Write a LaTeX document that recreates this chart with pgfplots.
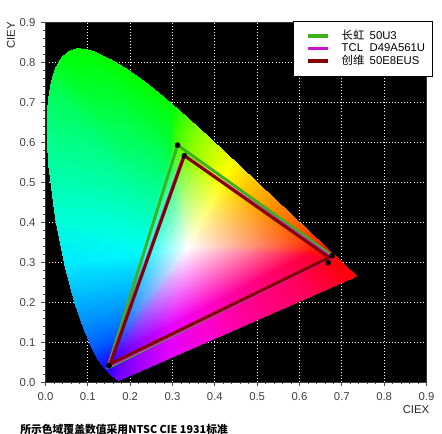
\documentclass[border=0pt]{standalone}
\usepackage{fontspec}
\setmainfont{Liberation Sans}
\newfontfamily\cjk{Noto Sans CJK SC}
\usepackage{pgfplots}
\pgfplotsset{compat=1.18}
\definecolor{cgreen}{RGB}{62,178,30}
\definecolor{cmag}{RGB}{205,20,205}
\definecolor{cdred}{RGB}{130,0,0}
\begin{document}
\begin{tikzpicture}
\path[use as bounding box] (-34.125pt,-38.775pt) rectangle (297.375pt,286.725pt);
\begin{axis}[
  at={(0pt,0pt)}, anchor=south west,
  scale only axis, width=285.75pt, height=270pt,
  xmin=0, xmax=0.9, ymin=0, ymax=0.9,
  axis background/.style={fill=black},
  axis line style={black!80, line width=0.6pt},
  xtick={0,0.1,0.2,0.3,0.4,0.5,0.6,0.7,0.8,0.9},
  ytick={0,0.1,0.2,0.3,0.4,0.5,0.6,0.7,0.8,0.9},
  xticklabels={0.0,0.1,0.2,0.3,0.4,0.5,0.6,0.7,0.8,0.9},
  yticklabels={0.0,0.1,0.2,0.3,0.4,0.5,0.6,0.7,0.8,0.9},
  minor tick num=4,
  tick align=outside,
  tick pos=left,
  major tick length=3pt, minor tick length=1.5pt,
  tick style={black!70, line width=0.5pt},
  tick label style={font=\fontsize{8.5}{10}\selectfont, text=black!75},
  xticklabel shift=1.5pt, yticklabel shift=1pt,
  grid=major,
  major grid style={white, line width=0.7pt, dash pattern=on 0.7pt off 1.6pt},
  legend style={at={(1,1)}, anchor=north east, xshift=4.8pt, yshift=1pt,
    draw=black, fill=white, font=\fontsize{8.5}{10}\selectfont,
    inner xsep=5pt, inner ysep=6.5pt, row sep=0pt,
    nodes={inner sep=0.6pt, text height=6.5pt, text depth=1.6pt}},
  legend cell align=left,
  legend image code/.code={\path (0pt,0pt); \draw[#1, line width=2.6pt] (5pt,0pt) -- (20pt,0pt); \path (28.5pt,0pt);},
]
\addplot[patch, shader=interp, mesh/color input=explicit, point meta=explicit symbolic, forget plot]
table[meta=c] {
x y c
0.335 0.335 rgb=1,1,1
0.2191 0.0981 rgb=0.58,0,1
0.2064 0.0911 rgb=0.53,0,1
0.2191 0.0981 rgb=0.58,0,1
0.1741 0.0050 rgb=0.44,0,1
0.1644 0.0109 rgb=0.39,0,1
0.2191 0.0981 rgb=0.58,0,1
0.1644 0.0109 rgb=0.39,0,1
0.2064 0.0911 rgb=0.53,0,1
0.335 0.335 rgb=1,1,1
0.2064 0.0911 rgb=0.53,0,1
0.1696 0.0708 rgb=0.31,0,1
0.2064 0.0911 rgb=0.53,0,1
0.1644 0.0109 rgb=0.39,0,1
0.1440 0.0297 rgb=0.12,0,1
0.2064 0.0911 rgb=0.53,0,1
0.1440 0.0297 rgb=0.12,0,1
0.1696 0.0708 rgb=0.31,0,1
0.335 0.335 rgb=1,1,1
0.1696 0.0708 rgb=0.31,0,1
0.1640 0.1104 rgb=0,0.36,1
0.1696 0.0708 rgb=0.31,0,1
0.1440 0.0297 rgb=0.12,0,1
0.1241 0.0578 rgb=0,0.19,1
0.1696 0.0708 rgb=0.31,0,1
0.1241 0.0578 rgb=0,0.19,1
0.1640 0.1104 rgb=0,0.36,1
0.335 0.335 rgb=1,1,1
0.1640 0.1104 rgb=0,0.36,1
0.1786 0.1628 rgb=0,0.53,1
0.1640 0.1104 rgb=0,0.36,1
0.1241 0.0578 rgb=0,0.19,1
0.1096 0.0868 rgb=0,0.36,1
0.1640 0.1104 rgb=0,0.36,1
0.1096 0.0868 rgb=0,0.36,1
0.1786 0.1628 rgb=0,0.53,1
0.335 0.335 rgb=1,1,1
0.1786 0.1628 rgb=0,0.53,1
0.1938 0.2176 rgb=0,0.68,1
0.1786 0.1628 rgb=0,0.53,1
0.1096 0.0868 rgb=0,0.36,1
0.0913 0.1327 rgb=0,0.52,1
0.1786 0.1628 rgb=0,0.53,1
0.0913 0.1327 rgb=0,0.52,1
0.1938 0.2176 rgb=0,0.68,1
0.335 0.335 rgb=1,1,1
0.1938 0.2176 rgb=0,0.68,1
0.2085 0.2707 rgb=0,0.82,1
0.1938 0.2176 rgb=0,0.68,1
0.0913 0.1327 rgb=0,0.52,1
0.0687 0.2007 rgb=0,0.70,1
0.1938 0.2176 rgb=0,0.68,1
0.0687 0.2007 rgb=0,0.70,1
0.2085 0.2707 rgb=0,0.82,1
0.335 0.335 rgb=1,1,1
0.2085 0.2707 rgb=0,0.82,1
0.2218 0.3183 rgb=0,0.97,1
0.2085 0.2707 rgb=0,0.82,1
0.0687 0.2007 rgb=0,0.70,1
0.0454 0.2950 rgb=0,0.92,1
0.2085 0.2707 rgb=0,0.82,1
0.0454 0.2950 rgb=0,0.92,1
0.2218 0.3183 rgb=0,0.97,1
0.335 0.335 rgb=1,1,1
0.2218 0.3183 rgb=0,0.97,1
0.2330 0.3588 rgb=0,1,0.90
0.2218 0.3183 rgb=0,0.97,1
0.0454 0.2950 rgb=0,0.92,1
0.0235 0.4127 rgb=0,1,0.83
0.2218 0.3183 rgb=0,0.97,1
0.0235 0.4127 rgb=0,1,0.83
0.2330 0.3588 rgb=0,1,0.90
0.335 0.335 rgb=1,1,1
0.2330 0.3588 rgb=0,1,0.90
0.2418 0.3907 rgb=0,1,0.81
0.2330 0.3588 rgb=0,1,0.90
0.0235 0.4127 rgb=0,1,0.83
0.0082 0.5384 rgb=0,1,0.63
0.2330 0.3588 rgb=0,1,0.90
0.0082 0.5384 rgb=0,1,0.63
0.2418 0.3907 rgb=0,1,0.81
0.335 0.335 rgb=1,1,1
0.2418 0.3907 rgb=0,1,0.81
0.2487 0.4154 rgb=0,1,0.74
0.2418 0.3907 rgb=0,1,0.81
0.0082 0.5384 rgb=0,1,0.63
0.0045 0.5970 rgb=0,1,0.55
0.2418 0.3907 rgb=0,1,0.81
0.0045 0.5970 rgb=0,1,0.55
0.2487 0.4154 rgb=0,1,0.74
0.2487 0.4154 rgb=0,1,0.74
0.0045 0.5970 rgb=0,1,0.55
0.0039 0.6548 rgb=0,1,0.46
0.335 0.335 rgb=1,1,1
0.2487 0.4154 rgb=0,1,0.74
0.2544 0.4358 rgb=0,1,0.68
0.2487 0.4154 rgb=0,1,0.74
0.0039 0.6548 rgb=0,1,0.46
0.0065 0.7030 rgb=0,1,0.38
0.2487 0.4154 rgb=0,1,0.74
0.0065 0.7030 rgb=0,1,0.38
0.2544 0.4358 rgb=0,1,0.68
0.2544 0.4358 rgb=0,1,0.68
0.0065 0.7030 rgb=0,1,0.38
0.0139 0.7502 rgb=0,1,0.30
0.335 0.335 rgb=1,1,1
0.2544 0.4358 rgb=0,1,0.68
0.2592 0.4532 rgb=0,1,0.64
0.2544 0.4358 rgb=0,1,0.68
0.0139 0.7502 rgb=0,1,0.30
0.0235 0.7840 rgb=0,1,0.17
0.2544 0.4358 rgb=0,1,0.68
0.0235 0.7840 rgb=0,1,0.17
0.2592 0.4532 rgb=0,1,0.64
0.2592 0.4532 rgb=0,1,0.64
0.0235 0.7840 rgb=0,1,0.17
0.0389 0.8120 rgb=0,1,0.05
0.335 0.335 rgb=1,1,1
0.2592 0.4532 rgb=0,1,0.64
0.2633 0.4679 rgb=0,1,0.60
0.2592 0.4532 rgb=0,1,0.64
0.0389 0.8120 rgb=0,1,0.05
0.0555 0.8265 rgb=0,1,0.02
0.2592 0.4532 rgb=0,1,0.64
0.0555 0.8265 rgb=0,1,0.02
0.2633 0.4679 rgb=0,1,0.60
0.2633 0.4679 rgb=0,1,0.60
0.0555 0.8265 rgb=0,1,0.02
0.0743 0.8338 rgb=0,1,0
0.335 0.335 rgb=1,1,1
0.2633 0.4679 rgb=0,1,0.60
0.2671 0.4816 rgb=0,1,0.56
0.2633 0.4679 rgb=0,1,0.60
0.0743 0.8338 rgb=0,1,0
0.0945 0.8325 rgb=0,1,0
0.2633 0.4679 rgb=0,1,0.60
0.0945 0.8325 rgb=0,1,0
0.2671 0.4816 rgb=0,1,0.56
0.2671 0.4816 rgb=0,1,0.56
0.0945 0.8325 rgb=0,1,0
0.1142 0.8262 rgb=0,1,0
0.335 0.335 rgb=1,1,1
0.2671 0.4816 rgb=0,1,0.56
0.2713 0.4967 rgb=0,1,0.52
0.2671 0.4816 rgb=0,1,0.56
0.1142 0.8262 rgb=0,1,0
0.1547 0.8059 rgb=0,1,0
0.2671 0.4816 rgb=0,1,0.56
0.1547 0.8059 rgb=0,1,0
0.2713 0.4967 rgb=0,1,0.52
0.335 0.335 rgb=1,1,1
0.2713 0.4967 rgb=0,1,0.52
0.2763 0.5146 rgb=0,1,0.47
0.2713 0.4967 rgb=0,1,0.52
0.1547 0.8059 rgb=0,1,0
0.1929 0.7816 rgb=0,1,0
0.2713 0.4967 rgb=0,1,0.52
0.1929 0.7816 rgb=0,1,0
0.2763 0.5146 rgb=0,1,0.47
0.335 0.335 rgb=1,1,1
0.2763 0.5146 rgb=0,1,0.47
0.2827 0.5378 rgb=0,1,0.39
0.2763 0.5146 rgb=0,1,0.47
0.1929 0.7816 rgb=0,1,0
0.2296 0.7543 rgb=0,1,0
0.2763 0.5146 rgb=0,1,0.47
0.2296 0.7543 rgb=0,1,0
0.2827 0.5378 rgb=0,1,0.39
0.335 0.335 rgb=1,1,1
0.2827 0.5378 rgb=0,1,0.39
0.2921 0.5714 rgb=0,1,0.27
0.2827 0.5378 rgb=0,1,0.39
0.2296 0.7543 rgb=0,1,0
0.2658 0.7243 rgb=0,1,0
0.2827 0.5378 rgb=0,1,0.39
0.2658 0.7243 rgb=0,1,0
0.2921 0.5714 rgb=0,1,0.27
0.335 0.335 rgb=1,1,1
0.2921 0.5714 rgb=0,1,0.27
0.3104 0.5918 rgb=0.28,1,0
0.2921 0.5714 rgb=0,1,0.27
0.2658 0.7243 rgb=0,1,0
0.3016 0.6923 rgb=0,1,0
0.2921 0.5714 rgb=0,1,0.27
0.3016 0.6923 rgb=0,1,0
0.3104 0.5918 rgb=0.28,1,0
0.335 0.335 rgb=1,1,1
0.3104 0.5918 rgb=0.28,1,0
0.3361 0.5714 rgb=0.50,1,0
0.3104 0.5918 rgb=0.28,1,0
0.3016 0.6923 rgb=0,1,0
0.3373 0.6589 rgb=0.33,1,0
0.3104 0.5918 rgb=0.28,1,0
0.3373 0.6589 rgb=0.33,1,0
0.3361 0.5714 rgb=0.50,1,0
0.335 0.335 rgb=1,1,1
0.3361 0.5714 rgb=0.50,1,0
0.3629 0.5502 rgb=0.67,1,0
0.3361 0.5714 rgb=0.50,1,0
0.3373 0.6589 rgb=0.33,1,0
0.3731 0.6245 rgb=0.59,1,0
0.3361 0.5714 rgb=0.50,1,0
0.3731 0.6245 rgb=0.59,1,0
0.3629 0.5502 rgb=0.67,1,0
0.335 0.335 rgb=1,1,1
0.3629 0.5502 rgb=0.67,1,0
0.3906 0.5282 rgb=0.84,1,0
0.3629 0.5502 rgb=0.67,1,0
0.3731 0.6245 rgb=0.59,1,0
0.4087 0.5896 rgb=0.79,1,0
0.3629 0.5502 rgb=0.67,1,0
0.4087 0.5896 rgb=0.79,1,0
0.3906 0.5282 rgb=0.84,1,0
0.335 0.335 rgb=1,1,1
0.3906 0.5282 rgb=0.84,1,0
0.4193 0.5053 rgb=1,1,0
0.3906 0.5282 rgb=0.84,1,0
0.4087 0.5896 rgb=0.79,1,0
0.4441 0.5547 rgb=0.98,1,0
0.3906 0.5282 rgb=0.84,1,0
0.4441 0.5547 rgb=0.98,1,0
0.4193 0.5053 rgb=1,1,0
0.335 0.335 rgb=1,1,1
0.4193 0.5053 rgb=1,1,0
0.4489 0.4818 rgb=1,0.85,0
0.4193 0.5053 rgb=1,1,0
0.4441 0.5547 rgb=0.98,1,0
0.4788 0.5202 rgb=1,0.84,0
0.4193 0.5053 rgb=1,1,0
0.4788 0.5202 rgb=1,0.84,0
0.4489 0.4818 rgb=1,0.85,0
0.335 0.335 rgb=1,1,1
0.4489 0.4818 rgb=1,0.85,0
0.4790 0.4579 rgb=1,0.72,0
0.4489 0.4818 rgb=1,0.85,0
0.4788 0.5202 rgb=1,0.84,0
0.5125 0.4866 rgb=1,0.70,0
0.4489 0.4818 rgb=1,0.85,0
0.5125 0.4866 rgb=1,0.70,0
0.4790 0.4579 rgb=1,0.72,0
0.335 0.335 rgb=1,1,1
0.4790 0.4579 rgb=1,0.72,0
0.5092 0.4340 rgb=1,0.61,0
0.4790 0.4579 rgb=1,0.72,0
0.5125 0.4866 rgb=1,0.70,0
0.5448 0.4544 rgb=1,0.58,0
0.4790 0.4579 rgb=1,0.72,0
0.5448 0.4544 rgb=1,0.58,0
0.5092 0.4340 rgb=1,0.61,0
0.335 0.335 rgb=1,1,1
0.5092 0.4340 rgb=1,0.61,0
0.5388 0.4105 rgb=1,0.51,0
0.5092 0.4340 rgb=1,0.61,0
0.5448 0.4544 rgb=1,0.58,0
0.5752 0.4242 rgb=1,0.48,0
0.5092 0.4340 rgb=1,0.61,0
0.5752 0.4242 rgb=1,0.48,0
0.5388 0.4105 rgb=1,0.51,0
0.335 0.335 rgb=1,1,1
0.5388 0.4105 rgb=1,0.51,0
0.5670 0.3881 rgb=1,0.42,0
0.5388 0.4105 rgb=1,0.51,0
0.5752 0.4242 rgb=1,0.48,0
0.6029 0.3965 rgb=1,0.38,0
0.5388 0.4105 rgb=1,0.51,0
0.6029 0.3965 rgb=1,0.38,0
0.5670 0.3881 rgb=1,0.42,0
0.335 0.335 rgb=1,1,1
0.5670 0.3881 rgb=1,0.42,0
0.5925 0.3679 rgb=1,0.33,0
0.5670 0.3881 rgb=1,0.42,0
0.6029 0.3965 rgb=1,0.38,0
0.6270 0.3725 rgb=1,0.28,0
0.5670 0.3881 rgb=1,0.42,0
0.6270 0.3725 rgb=1,0.28,0
0.5925 0.3679 rgb=1,0.33,0
0.335 0.335 rgb=1,1,1
0.5925 0.3679 rgb=1,0.33,0
0.6156 0.3495 rgb=1,0.24,0
0.5925 0.3679 rgb=1,0.33,0
0.6270 0.3725 rgb=1,0.28,0
0.6482 0.3514 rgb=1,0.17,0
0.5925 0.3679 rgb=1,0.33,0
0.6482 0.3514 rgb=1,0.17,0
0.6156 0.3495 rgb=1,0.24,0
0.335 0.335 rgb=1,1,1
0.6156 0.3495 rgb=1,0.24,0
0.6352 0.3339 rgb=1,0.11,0
0.6156 0.3495 rgb=1,0.24,0
0.6482 0.3514 rgb=1,0.17,0
0.6658 0.3340 rgb=1,0,0
0.6156 0.3495 rgb=1,0.24,0
0.6658 0.3340 rgb=1,0,0
0.6352 0.3339 rgb=1,0.11,0
0.335 0.335 rgb=1,1,1
0.6352 0.3339 rgb=1,0.11,0
0.6107 0.3139 rgb=1,0,0.22
0.6352 0.3339 rgb=1,0.11,0
0.6658 0.3340 rgb=1,0,0
0.6915 0.3083 rgb=1,0,0
0.6352 0.3339 rgb=1,0.11,0
0.6915 0.3083 rgb=1,0,0
0.6107 0.3139 rgb=1,0,0.22
0.335 0.335 rgb=1,1,1
0.6107 0.3139 rgb=1,0,0.22
0.5937 0.3045 rgb=1,0,0.27
0.6107 0.3139 rgb=1,0,0.22
0.6915 0.3083 rgb=1,0,0
0.7079 0.2920 rgb=1,0,0
0.6107 0.3139 rgb=1,0,0.22
0.7079 0.2920 rgb=1,0,0
0.5937 0.3045 rgb=1,0,0.27
0.335 0.335 rgb=1,1,1
0.5937 0.3045 rgb=1,0,0.27
0.5840 0.2991 rgb=1,0,0.30
0.5937 0.3045 rgb=1,0,0.27
0.7079 0.2920 rgb=1,0,0
0.7190 0.2809 rgb=1,0,0
0.5937 0.3045 rgb=1,0,0.27
0.7190 0.2809 rgb=1,0,0
0.5840 0.2991 rgb=1,0,0.30
0.335 0.335 rgb=1,1,1
0.5840 0.2991 rgb=1,0,0.30
0.5785 0.2961 rgb=1,0,0.31
0.5840 0.2991 rgb=1,0,0.30
0.7190 0.2809 rgb=1,0,0
0.7260 0.2740 rgb=1,0,0
0.5840 0.2991 rgb=1,0,0.30
0.7260 0.2740 rgb=1,0,0
0.5785 0.2961 rgb=1,0,0.31
0.335 0.335 rgb=1,1,1
0.5785 0.2961 rgb=1,0,0.31
0.5723 0.2927 rgb=1,0,0.33
0.5785 0.2961 rgb=1,0,0.31
0.7260 0.2740 rgb=1,0,0
0.7347 0.2653 rgb=1,0,0
0.5785 0.2961 rgb=1,0,0.31
0.7347 0.2653 rgb=1,0,0
0.5723 0.2927 rgb=1,0,0.33
0.335 0.335 rgb=1,1,1
0.5723 0.2927 rgb=1,0,0.33
0.5115 0.2592 rgb=1,0,0.47
0.5723 0.2927 rgb=1,0,0.33
0.7347 0.2653 rgb=1,0,0
0.6226 0.2132 rgb=1,0,0.36
0.5723 0.2927 rgb=1,0,0.33
0.6226 0.2132 rgb=1,0,0.36
0.5115 0.2592 rgb=1,0,0.47
0.335 0.335 rgb=1,1,1
0.5115 0.2592 rgb=1,0,0.47
0.4464 0.2233 rgb=1,0,0.62
0.5115 0.2592 rgb=1,0,0.47
0.6226 0.2132 rgb=1,0,0.36
0.5105 0.1612 rgb=1,0,0.54
0.5115 0.2592 rgb=1,0,0.47
0.5105 0.1612 rgb=1,0,0.54
0.4464 0.2233 rgb=1,0,0.62
0.335 0.335 rgb=1,1,1
0.4464 0.2233 rgb=1,0,0.62
0.3763 0.1847 rgb=1,0,0.81
0.4464 0.2233 rgb=1,0,0.62
0.5105 0.1612 rgb=1,0,0.54
0.3983 0.1091 rgb=1,0,0.79
0.4464 0.2233 rgb=1,0,0.62
0.3983 0.1091 rgb=1,0,0.79
0.3763 0.1847 rgb=1,0,0.81
0.335 0.335 rgb=1,1,1
0.3763 0.1847 rgb=1,0,0.81
0.3008 0.1431 rgb=0.92,0,1
0.3763 0.1847 rgb=1,0,0.81
0.3983 0.1091 rgb=1,0,0.79
0.2862 0.0571 rgb=0.87,0,1
0.3763 0.1847 rgb=1,0,0.81
0.2862 0.0571 rgb=0.87,0,1
0.3008 0.1431 rgb=0.92,0,1
0.335 0.335 rgb=1,1,1
0.3008 0.1431 rgb=0.92,0,1
0.2191 0.0981 rgb=0.58,0,1
0.3008 0.1431 rgb=0.92,0,1
0.2862 0.0571 rgb=0.87,0,1
0.1741 0.0050 rgb=0.44,0,1
0.3008 0.1431 rgb=0.92,0,1
0.1741 0.0050 rgb=0.44,0,1
0.2191 0.0981 rgb=0.58,0,1
};
\addplot[cgreen, line width=2.2pt, line join=round] coordinates {(0.312,0.593) (0.6775,0.3165) (0.147,0.036) (0.312,0.593)};
\addlegendentry{\makebox[21pt][l]{\cjk 长虹}50U3}
\addplot[cmag, line width=2.2pt, line join=round] coordinates {(0.327,0.568) (0.674,0.313) (0.150,0.041) (0.327,0.568)};
\addlegendentry{\makebox[21pt][l]{TCL}D49A561U}
\addplot[cdred, line width=2.2pt, line join=round] coordinates {(0.328,0.5665) (0.670,0.312) (0.153,0.046) (0.328,0.5665)};
\addlegendentry{\makebox[21pt][l]{\cjk 创维}50E8EUS}
\addplot[only marks, mark=*, mark size=1.9pt, black, forget plot] coordinates {(0.312,0.593) (0.328,0.5665) (0.6775,0.3165) (0.668,0.299) (0.150,0.0415)};
\end{axis}
\node[rotate=90, text=black!85] at (-25.9pt,260pt) {\fontsize{8.5}{10}\selectfont CIEY};
\node[text=black!85] at (277.9pt,-20.25pt) {\fontsize{8.5}{10}\selectfont CIEX};
\node[anchor=west, inner sep=0pt] at (-19.1pt,-35pt) {\cjk\bfseries\fontsize{8.1}{10}\selectfont 所示色域覆盖数值采用NTSC CIE 1931标准};
\end{tikzpicture}
\end{document}
